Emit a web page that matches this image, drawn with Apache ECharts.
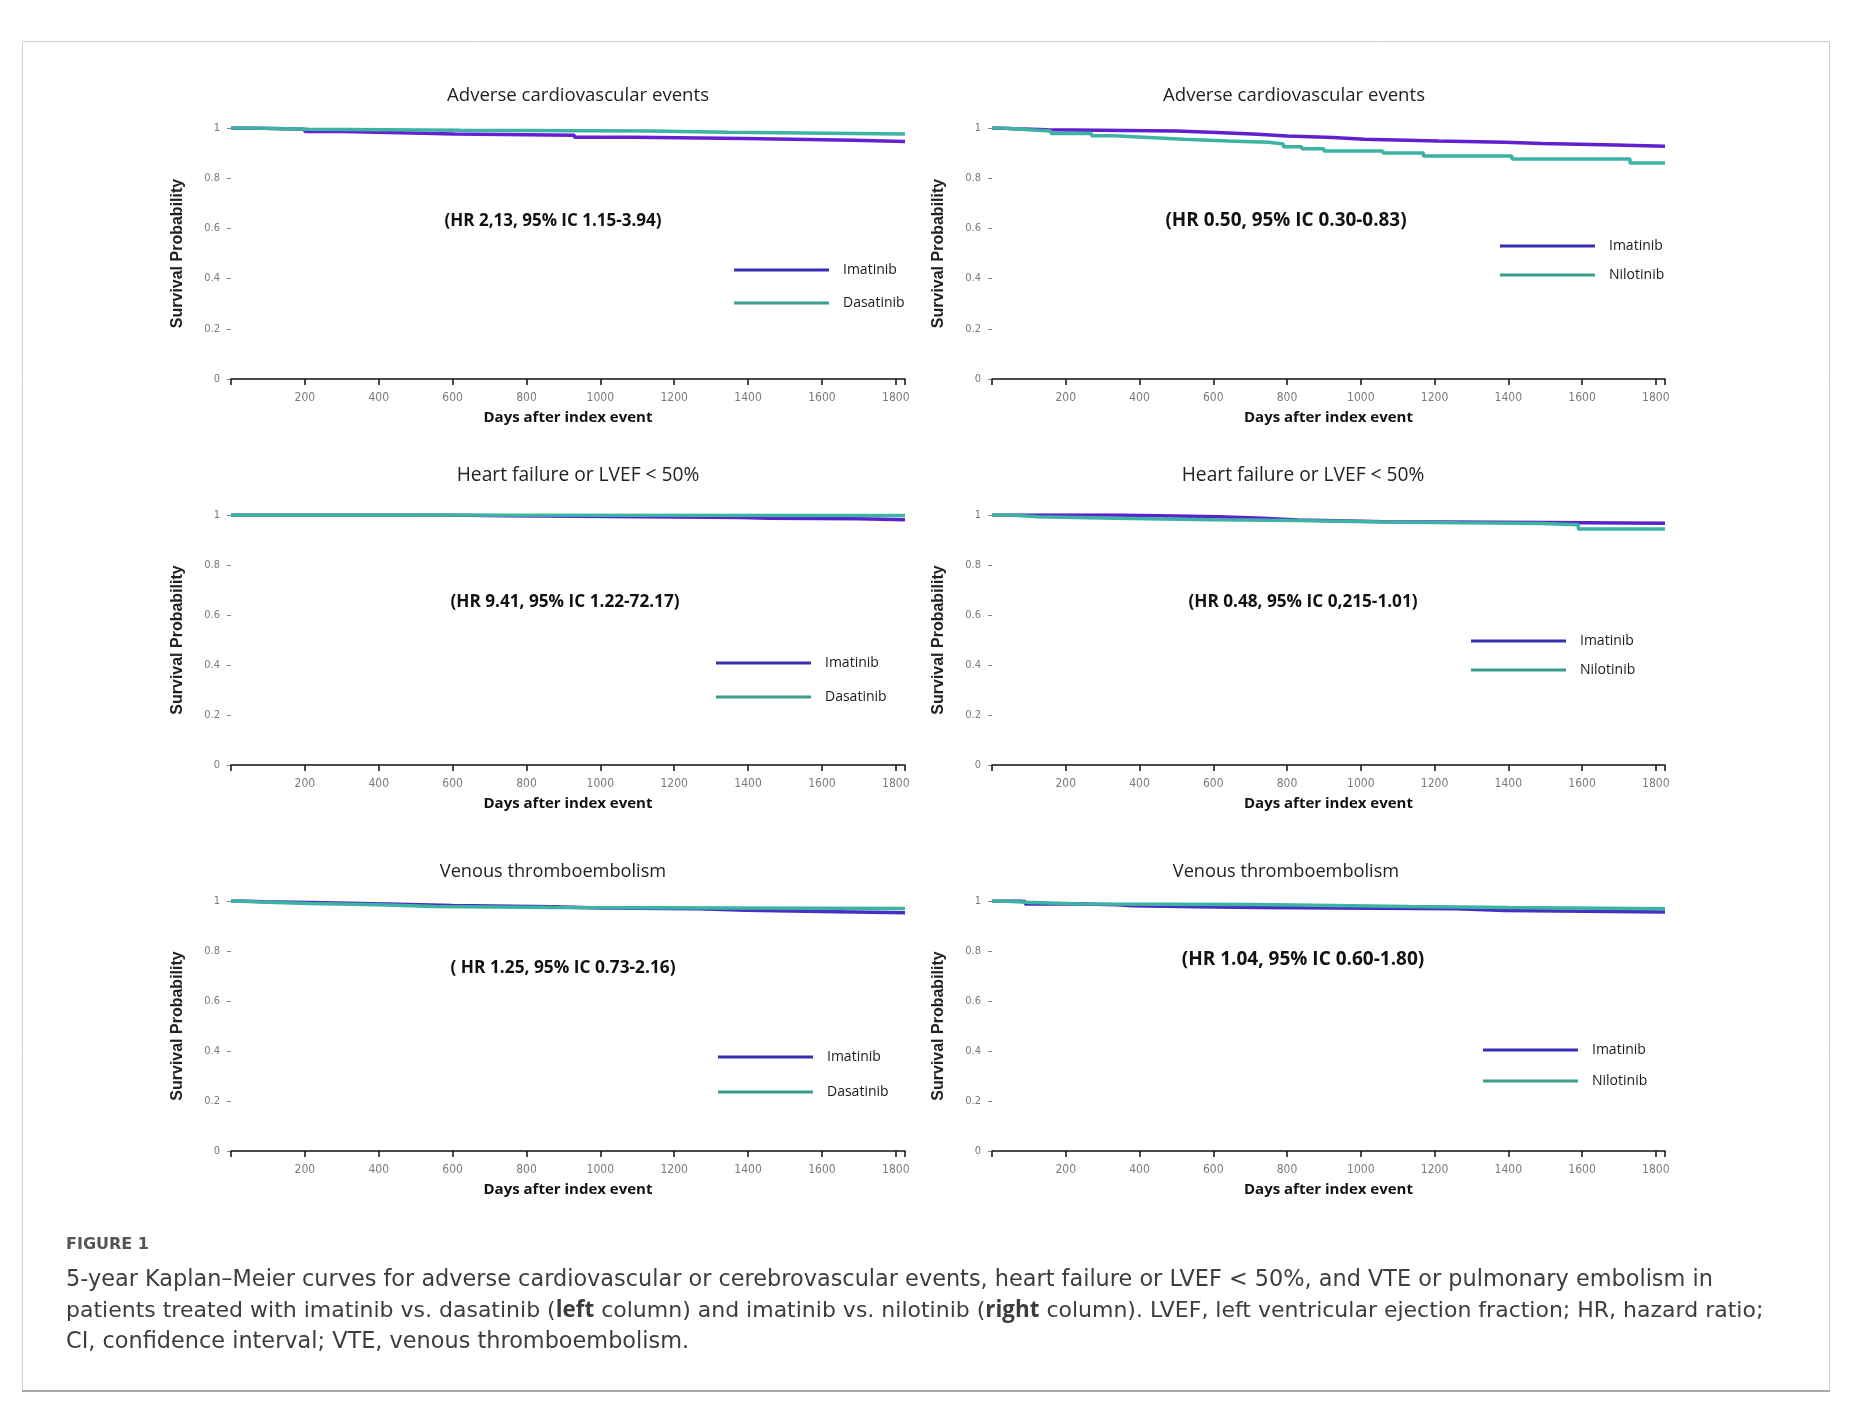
<!DOCTYPE html>
<html><head><meta charset="utf-8">
<script src="https://cdn.jsdelivr.net/npm/echarts@6/dist/echarts.min.js"></script>
<style>html,body{margin:0;padding:0;background:#fff}#c{width:1856px;height:1402px}</style>
</head><body><div id="c"></div>
<script>
// ---------- DATA ----------
const xTickLabels = [200, 400, 600, 800, 1000, 1200, 1400, 1600, 1800];
const dayMax = 1825;

const panelTitles = [
  'Adverse cardiovascular events', 'Adverse cardiovascular events',
  'Heart failure or LVEF < 50%', 'Heart failure or LVEF < 50%',
  'Venous thromboembolism', 'Venous thromboembolism'
];
const hrLabels = [
  '(HR 2,13, 95% IC 1.15-3.94)', '(HR 0.50, 95% IC 0.30-0.83)',
  '(HR 9.41, 95% IC 1.22-72.17)', '(HR 0.48, 95% IC 0,215-1.01)',
  '( HR 1.25, 95% IC 0.73-2.16)', '(HR 1.04, 95% IC 0.60-1.80)'
];

// [day, survival probability]
const aceDasaImatinib = [[0,1],[60,0.995],[200,0.986],[305,0.979],[520,0.976],[605,0.971],[930,0.963],[1090,0.958],[1390,0.951],[1685,0.946],[1825,0.946]];
const aceDasaDasatinib = [[0,1],[55,0.995],[210,0.991],[620,0.988],[1135,0.983],[1345,0.976],[1825,0.976]];

const aceNiloImatinib = [[0,1],[20,0.997],[60,0.993],[150,0.988],[500,0.982],[610,0.975],[720,0.968],[800,0.962],[925,0.955],[1010,0.948],[1210,0.943],[1390,0.938],[1490,0.932],[1690,0.927],[1825,0.927]];
const aceNiloNilotinib = [[0,1],[30,0.993],[100,0.988],[160,0.978],[270,0.969],[330,0.962],[425,0.955],[520,0.948],[640,0.943],[750,0.936],[790,0.925],[840,0.917],[900,0.908],[1060,0.9],[1170,0.888],[1410,0.876],[1730,0.861],[1825,0.861]];

const hfDasaImatinib = [[0,1],[580,0.997],[750,0.993],[1120,0.99],[1380,0.987],[1460,0.985],[1700,0.981],[1825,0.981]];
const hfDasaDasatinib = [[0,1],[340,0.998],[1825,0.998]];

const hfNiloImatinib = [[0,1],[335,0.993],[615,0.987],[735,0.98],[830,0.973],[1065,0.971],[1360,0.97],[1495,0.967],[1825,0.967]];
const hfNiloNilotinib = [[0,1],[50,0.993],[125,0.987],[330,0.981],[600,0.978],[830,0.972],[1065,0.969],[1265,0.966],[1490,0.961],[1590,0.944],[1825,0.944]];

const vteDasaImatinib = [[0,1],[40,0.997],[90,0.993],[250,0.988],[420,0.982],[600,0.977],[870,0.972],[1000,0.969],[1265,0.963],[1395,0.958],[1600,0.953],[1825,0.953]];
const vteDasaDasatinib = [[0,1],[15,0.996],[80,0.99],[210,0.985],[400,0.978],[550,0.974],[870,0.97],[1825,0.968]];

const vteNiloImatinib = [[0,1],[75,0.998],[90,0.988],[250,0.985],[340,0.981],[380,0.977],[555,0.974],[720,0.969],[1260,0.962],[1390,0.956],[1825,0.956]];
const vteNiloNilotinib = [[0,1],[30,0.995],[90,0.988],[245,0.986],[715,0.978],[1130,0.974],[1400,0.969],[1825,0.969]];

const seriesNames = [['Imatinib','Dasatinib'],['Imatinib','Nilotinib'],['Imatinib','Dasatinib'],['Imatinib','Nilotinib'],['Imatinib','Dasatinib'],['Imatinib','Nilotinib']];
const seriesData = [
  [aceDasaImatinib, aceDasaDasatinib], [aceNiloImatinib, aceNiloNilotinib],
  [hfDasaImatinib, hfDasaDasatinib], [hfNiloImatinib, hfNiloNilotinib],
  [vteDasaImatinib, vteDasaDasatinib], [vteNiloImatinib, vteNiloNilotinib]
];

// ---------- LAYOUT / STYLE ----------
const grids = [
  {left:231, top:128, width:674, height:251},
  {left:992, top:128, width:673, height:251},
  {left:231, top:515, width:674, height:250},
  {left:992, top:515, width:673, height:250},
  {left:231, top:901, width:674, height:250},
  {left:992, top:901, width:673, height:250}
];
const titlePos = [[578,96],[1294,96],[578,476],[1303,476],[553,872],[1286,872]];
const titleSize = [18.6, 18.6, 19.2, 19.2, 18.2, 18.2];
const hrPos = [[553,221],[1286,221],[565,602],[1303,602],[563,968],[1303,960]];
const hrSize = [17, 18.9, 17.2, 17.2, 17.3, 19];
const legendPos = [[734,262,17],[1500,238,13],[716,655,18],[1471,633,13],[718,1049,19],[1483,1042,15]];
const purpleCurve = ['#6620d4','#6020d0','#5a22cc','#5a22cc','#4a2cc6','#4630c2'];
const tealCurve = '#3db3a3';
const purpleLegend = '#3a2db5';
const tealLegend = '#3a9e8f';

const FONT = "'Open Sans', 'Noto Sans', sans-serif";
const CAPFONT = "'DejaVu Sans', 'Noto Sans', sans-serif";

const xAxes = [], yAxes = [], series = [], legends = [], graphics = [];
grids.forEach((g, i) => {
  xAxes.push({
    gridIndex: i, type: 'value', min: 0, max: dayMax, interval: 200,
    axisLine: {show: true, lineStyle: {color: '#111', width: 1.5}},
    axisTick: {show: true, length: 6, lineStyle: {color: '#111', width: 1.5}},
    axisLabel: {color: '#7a7a7a', fontSize: 12, margin: 13, fontFamily: "'DejaVu Sans Condensed', 'DejaVu Sans', sans-serif",
      formatter: v => xTickLabels.includes(v) ? String(v) : ''},
    splitLine: {show: false},
    name: 'Days after index event', nameLocation: 'middle', nameGap: 31,
    nameTextStyle: {fontFamily: FONT, fontSize: 15, color: '#111', fontWeight: 'bold'}
  });
  yAxes.push({
    gridIndex: i, type: 'value', min: 0, max: 1, interval: 0.2,
    axisLine: {show: false},
    axisTick: {show: true, length: 4, lineStyle: {color: '#888', width: 1}},
    axisLabel: {color: '#7a7a7a', fontSize: 11, margin: 11, fontFamily: "'DejaVu Sans Condensed', 'DejaVu Sans', sans-serif"},
    splitLine: {show: false},
    name: 'Survival Probability', nameLocation: 'middle', nameGap: 45,
    nameTextStyle: {fontFamily: "'Liberation Sans', Arial, sans-serif", fontSize: 16, fontWeight: 'bold', color: '#222'}
  });
  const names = seriesNames[i];
  [0, 1].forEach(k => {
    series.push({
      type: 'line', name: names[k], xAxisIndex: i, yAxisIndex: i,
      data: seriesData[i][k], step: 'end', showSymbol: false, symbol: 'none',
      z: 2 + k, animation: false,
      lineStyle: {width: 3.5, color: k === 0 ? purpleCurve[i] : tealCurve},
      itemStyle: {color: k === 0 ? purpleCurve[i] : tealCurve}
    });
  });
  const lp = legendPos[i];
  legends.push({
    orient: 'vertical', left: lp[0], top: lp[1], itemWidth: 95, itemHeight: 3, icon: 'rect',
    itemGap: lp[2], selectedMode: false, padding: 0,
    textStyle: {fontFamily: FONT, fontSize: 14, color: '#1a1a1a', lineHeight: 16, padding: [0, 0, 0, 9]},
    data: [
      {name: names[0], itemStyle: {color: purpleLegend}},
      {name: names[1], itemStyle: {color: tealLegend}}
    ]
  });
  graphics.push({type: 'text', x: titlePos[i][0], y: titlePos[i][1],
    style: {text: panelTitles[i], fontFamily: FONT, fontSize: titleSize[i], fill: '#222', align: 'center', verticalAlign: 'middle'}});
  graphics.push({type: 'text', x: hrPos[i][0], y: hrPos[i][1],
    style: {text: hrLabels[i], fontFamily: FONT, fontSize: hrSize[i], fontWeight: 'bold', fill: '#111', align: 'center', verticalAlign: 'middle'}});
});

// frame and caption
graphics.push({type: 'rect', z: -10, shape: {x: 22.5, y: 41.5, width: 1807, height: 1349},
  style: {fill: 'none', stroke: '#cfcfcf', lineWidth: 1}});
graphics.push({type: 'line', z: -9, shape: {x1: 22, y1: 1391, x2: 1830, y2: 1391},
  style: {stroke: '#a8a8a8', lineWidth: 2}});
graphics.push({type: 'text', x: 66, y: 1245,
  style: {text: 'FIGURE 1', fontFamily: CAPFONT, fontSize: 16, fontWeight: 'bold', fill: '#555', align: 'left', verticalAlign: 'middle'}});
const capStyle = {fontFamily: CAPFONT, fontSize: 22.4, fill: '#3d3d3d'};
graphics.push({type: 'text', x: 66, y: 1280,
  style: Object.assign({text: '5-year Kaplan\u2013Meier curves for adverse cardiovascular or cerebrovascular events, heart failure or LVEF < 50%, and VTE or pulmonary embolism in', align: 'left', verticalAlign: 'middle'}, capStyle)});
graphics.push({type: 'text', x: 66, y: 1311,
  style: Object.assign({text: 'patients treated with imatinib vs. dasatinib ({b|left} column) and imatinib vs. nilotinib ({b|right} column). LVEF, left ventricular ejection fraction; HR, hazard ratio;',
    align: 'left', verticalAlign: 'middle',
    rich: {b: {fontFamily: FONT, fontSize: 22.4, fontWeight: 'bold', fill: '#3d3d3d', color: '#3d3d3d'}}}, capStyle, {fontSize: 22})});
graphics.push({type: 'text', x: 66, y: 1342,
  style: Object.assign({text: 'CI, confidence interval; VTE, venous thromboembolism.', align: 'left', verticalAlign: 'middle'}, capStyle)});

const chart = echarts.init(document.getElementById('c'), null, {renderer: 'canvas', width: 1856, height: 1402});
chart.setOption({
  backgroundColor: '#fff',
  animation: false,
  grid: grids,
  xAxis: xAxes,
  yAxis: yAxes,
  legend: legends,
  series: series,
  graphic: graphics
});
</script></body></html>
